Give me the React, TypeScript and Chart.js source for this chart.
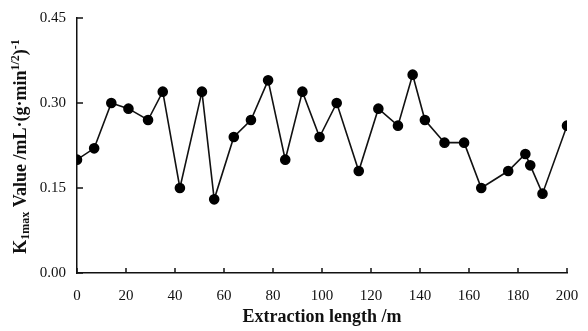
import React, { useEffect, useRef } from "react";
import { Chart, registerables } from "chart.js";

Chart.register(...registerables);

const lengths = [0, 7, 14, 21, 29, 35, 42, 51, 56, 64, 71, 78, 85, 92, 99, 106, 115, 123, 131, 137, 142, 150, 158, 165, 176, 183, 185, 190, 200];
const kValues = [0.2, 0.22, 0.3, 0.29, 0.27, 0.32, 0.15, 0.32, 0.13, 0.24, 0.27, 0.34, 0.2, 0.32, 0.24, 0.3, 0.18, 0.29, 0.26, 0.35, 0.27, 0.23, 0.23, 0.15, 0.18, 0.21, 0.19, 0.14, 0.26];
const xTicks = [0, 20, 40, 60, 80, 100, 120, 140, 160, 180, 200];
const yTicks = [0, 0.15, 0.3, 0.45];
const xTitle = "Extraction length /m";
const yTitleParts: [string, string][] = [
  ["K", "n"],
  ["1max", "sub"],
  [" Value /mL·(g·min", "n"],
  ["1/2", "sup"],
  [")", "n"],
  ["-1", "sup"],
];

const SERIF = "'Liberation Serif', 'Times New Roman', serif";

const innerTicks = {
  id: "innerTicks",
  afterDraw(chart: any) {
    const ctx = chart.ctx;
    const xs = chart.scales.x;
    const ys = chart.scales.y;
    const area = chart.chartArea;
    ctx.save();
    ctx.strokeStyle = "#111";
    ctx.lineWidth = 1.5;
    xTicks.forEach((v) => {
      const px = xs.getPixelForValue(v);
      ctx.beginPath();
      ctx.moveTo(px, area.bottom);
      ctx.lineTo(px, area.bottom - 5);
      ctx.stroke();
    });
    yTicks.forEach((v) => {
      const py = ys.getPixelForValue(v);
      ctx.beginPath();
      ctx.moveTo(area.left, py);
      ctx.lineTo(area.left + 6, py);
      ctx.stroke();
    });
    // y title
    const big = 18;
    const small = 12;
    ctx.fillStyle = "#111";
    ctx.textBaseline = "alphabetic";
    ctx.textAlign = "left";
    let total = 0;
    const widths = yTitleParts.map(([t, k]) => {
      ctx.font = `bold ${k === "n" ? big : small}px ${SERIF}`;
      const w = ctx.measureText(t).width;
      total += w;
      return w;
    });
    const cy = (area.top + area.bottom) / 2 + 1;
    ctx.translate(18, cy);
    ctx.rotate(-Math.PI / 2);
    let x = -total / 2;
    yTitleParts.forEach(([t, k], i) => {
      ctx.font = `bold ${k === "n" ? big : small}px ${SERIF}`;
      const dy = k === "sub" ? 3 : k === "sup" ? -7 : 0;
      ctx.fillText(t, x, dy);
      x += widths[i];
    });
    ctx.restore();
  },
};

export default function App() {
  const ref = useRef<HTMLCanvasElement | null>(null);
  useEffect(() => {
    if (!ref.current) return;
    const chart = new Chart(ref.current, {
      type: "scatter",
      data: {
        datasets: [
          {
            data: lengths.map((l, i) => ({ x: l, y: kValues[i] })),
            showLine: true,
            borderColor: "#111",
            borderWidth: 1.6,
            backgroundColor: "#000",
            pointBackgroundColor: "#000",
            pointBorderColor: "#000",
            pointRadius: 4.5,
            pointHoverRadius: 4.5,
            tension: 0,
          },
        ],
      },
      options: {
        animation: false,
        responsive: true,
        maintainAspectRatio: false,
        layout: { padding: { top: 10, right: 13, left: 0, bottom: 0 } },
        plugins: { legend: { display: false }, tooltip: { enabled: false } },
        scales: {
          x: {
            type: "linear",
            min: 0,
            max: 200,
            afterBuildTicks: (s: any) => {
              s.ticks = xTicks.map((v) => ({ value: v }));
            },
            afterFit: (s: any) => {
              s.height = 58;
              s.paddingLeft = 0;
              s.paddingRight = 0;
            },
            grid: { drawOnChartArea: false, drawTicks: false },
            border: { display: true, color: "#111", width: 1.5 },
            ticks: {
              padding: 14,
              color: "#111",
              font: { family: SERIF, size: 15 },
              maxRotation: 0,
            },
            title: {
              display: true,
              text: xTitle,
              color: "#111",
              font: { family: SERIF, size: 18, weight: "bold" },
              padding: { top: 4, bottom: 3 },
            },
          },
          y: {
            type: "linear",
            min: 0,
            max: 0.45,
            afterBuildTicks: (s: any) => {
              s.ticks = yTicks.map((v) => ({ value: v }));
            },
            afterFit: (s: any) => {
              s.width = 69;
              s.paddingTop = 0;
              s.paddingBottom = 0;
            },
            grid: { drawOnChartArea: false, drawTicks: false },
            border: { display: true, color: "#111", width: 1.5 },
            ticks: {
              padding: 11,
              color: "#111",
              font: { family: SERIF, size: 15 },
              callback: (v: any) => Number(v).toFixed(2),
            },
          },
        },
      },
      plugins: [innerTicks],
    } as any);
    return () => chart.destroy();
  }, []);
  return (
    <div style={{ position: "relative", width: 572, height: 323 }}>
      <canvas ref={ref} />
    </div>
  );
}
